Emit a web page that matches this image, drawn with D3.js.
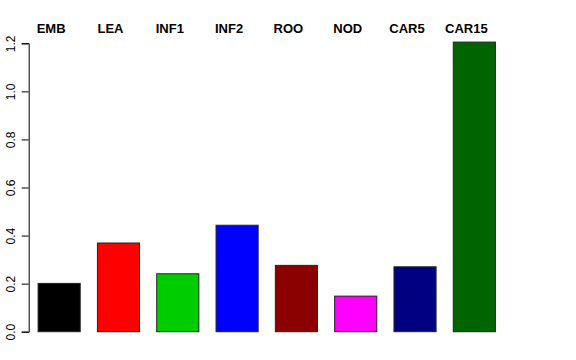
<!DOCTYPE html>
<html>
<head>
<meta charset="utf-8">
<script src="https://cdn.jsdelivr.net/npm/d3@7"></script>
<style>
  html, body { margin: 0; padding: 0; background: #fff; }
  svg { display: block; }
</style>
</head>
<body>
<svg id="chart" width="576" height="360"></svg>
<script>
const categories = ["EMB", "LEA", "INF1", "INF2", "ROO", "NOD", "CAR5", "CAR15"];
const values = [0.201, 0.369, 0.241, 0.443, 0.276, 0.148, 0.270, 1.205];
const colors = ["#000000", "#FF0000", "#00CD00", "#0000FF", "#8B0000", "#FF00FF", "#000080", "#006400"];
const yTicks = [0, 0.2, 0.4, 0.6, 0.8, 1.0, 1.2];

const svg = d3.select("#chart");

const x = d3.scaleBand()
  .domain(categories)
  .range([29.5, 504])
  .paddingInner(0.29)
  .paddingOuter(0.145);

const y = d3.scaleLinear()
  .domain([0, 1.2])
  .range([331.7, 43.3]);

// bars
svg.append("g").selectAll("rect")
  .data(categories)
  .join("rect")
  .attr("x", d => x(d))
  .attr("y", (d, i) => y(values[i]))
  .attr("width", x.bandwidth())
  .attr("height", (d, i) => y(0) - y(values[i]))
  .attr("fill", (d, i) => colors[i])
  .attr("stroke", "#222")
  .attr("stroke-width", 1);

// y axis
const yAxis = d3.axisLeft(y)
  .tickValues(yTicks)
  .tickFormat(d3.format(".1f"))
  .tickSizeOuter(0)
  .tickSize(7);

const ga = svg.append("g")
  .attr("transform", "translate(28.7,0)")
  .call(yAxis);
ga.select(".domain").attr("stroke", "#000");
ga.selectAll(".tick line").attr("stroke", "#000");
ga.selectAll(".tick text")
  .attr("font-family", "Liberation Sans, Arial, Helvetica, sans-serif")
  .attr("font-size", 12)
  .attr("fill", "#000")
  .attr("text-anchor", "middle")
  .attr("dy", null)
  .attr("x", null)
  .attr("transform", "translate(-13.5,0) rotate(-90)");

// category labels on top
svg.append("g").selectAll("text")
  .data(categories)
  .join("text")
  .attr("x", d => x(d) + x.bandwidth() / 2 - 8)
  .attr("y", 33)
  .attr("text-anchor", "middle")
  .attr("font-family", "Liberation Sans, Arial, Helvetica, sans-serif")
  .attr("font-weight", "bold")
  .attr("font-size", 13)
  .attr("fill", "#000")
  .text(d => d);
</script>
</body>
</html>
